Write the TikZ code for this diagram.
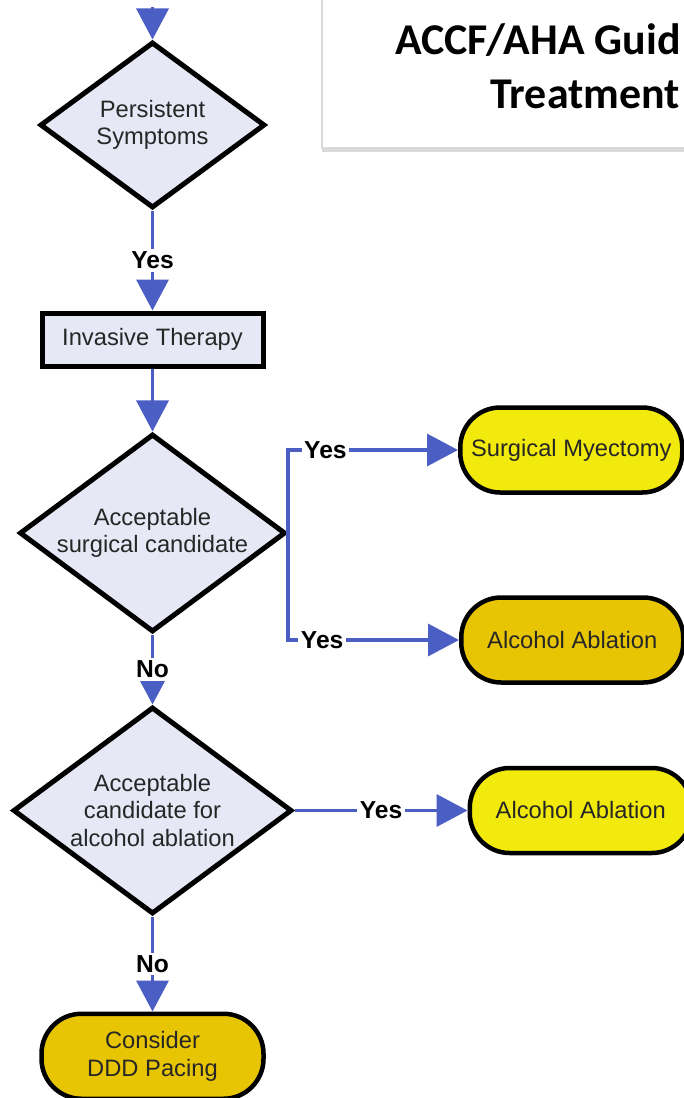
\documentclass[tikz,border=0pt]{standalone}
\usepackage{fontspec}
\setmainfont{Liberation Sans}
\newfontfamily\titlefont{Carlito}
\usetikzlibrary{arrows.meta,positioning,shapes.geometric,shadows}
\definecolor{cline}{HTML}{4B5EC3}
\definecolor{cdec}{HTML}{E6E8F5}
\definecolor{cyel}{HTML}{F2EA0C}
\definecolor{cgold}{HTML}{E8C503}
\tikzset{
  decision/.style={diamond,draw,fill=cdec,line width=1mm,inner sep=0pt,aspect=1.35,align=center,text=black!85,font=\fontsize{13.5}{15.5}\selectfont},
  process/.style={rectangle,draw,fill=cdec,line width=1mm,minimum width=44.2mm,minimum height=10.6mm,inner sep=0pt,text=black!85,font=\fontsize{13.5}{15.5}\selectfont},
  terminal/.style={rectangle,rounded corners=8mm,draw,line width=0.9mm,minimum width=44.4mm,minimum height=17mm,inner sep=0pt,align=center,text=black!85,font=\fontsize{13.5}{15.5}\selectfont},
  answer/.style={fill=white,inner sep=1.5pt,text=black,font=\fontsize{14}{16}\selectfont\bfseries},
  flow/.style={cline,line width=0.7mm,-{Triangle[length=6.2mm,width=6.4mm]}},
  titlepanel/.style={rectangle,draw=black!15,fill=white,line width=0.3mm,minimum width=80mm,minimum height=30.4mm,drop shadow={shadow xshift=0mm,shadow yshift=-0.8mm,opacity=0.3}},
  titletext/.style={inner sep=0pt,font=\titlefont\fontsize{25}{30}\selectfont\bfseries},
}
\begin{document}
\begin{tikzpicture}
  \clip (0,0) rectangle (136.8mm,-219.6mm);
  % title panel, cut by the page edge
  \node[titlepanel,anchor=north west] (panel) at (64.2mm,1mm) {};
  \node[titletext,anchor=base west] (title1) at (79mm,-10.8mm) {ACCF/AHA Guid};
  \node[titletext,anchor=base west] (title2) at (98mm,-21.6mm) {Treatment};
  % main column
  \node[decision,minimum width=45mm,minimum height=33.2mm] (persist) at (30.5mm,-25mm) {Persistent\\Symptoms};
  \node[process,below=20mm of persist] (invasive) {Invasive Therapy};
  \node[decision,minimum width=53.2mm,minimum height=39.6mm,below=12.6mm of invasive] (surgcand) {Acceptable\\surgical candidate};
  \node[decision,minimum width=55.8mm,minimum height=41.4mm,below=14mm of surgcand] (alccand) {Acceptable\\candidate for\\alcohol ablation};
  \node[terminal,fill=cgold,below=19mm of alccand] (pacing) {Consider\\DDD Pacing};
  % outcomes on the right
  \node[terminal,fill=cyel,right=34mm of surgcand.east,yshift=16.6mm] (myectomy) {Surgical Myectomy};
  \node[terminal,fill=cgold,right=34.2mm of surgcand.east,yshift=-21.4mm] (ablation1) {Alcohol Ablation};
  \node[terminal,fill=cyel,right=34.6mm of alccand.east] (ablation2) {Alcohol Ablation};
  \coordinate[above=6.6mm of persist.north] (entry);
  % connectors
  \draw[flow] (entry) -- (persist);
  \draw[flow] (persist) -- node[answer]{Yes} (invasive);
  \draw[flow] (invasive) -- (surgcand);
  \draw[flow] (surgcand.east) |- node[answer,pos=0.61]{Yes} (myectomy);
  \draw[flow] (surgcand.east) |- node[answer,pos=0.6]{Yes} (ablation1);
  \draw[flow] (surgcand) -- node[answer]{No} (alccand);
  \draw[flow] (alccand) -- node[answer]{Yes} (ablation2);
  \draw[flow] (alccand) -- node[answer]{No} (pacing);
\end{tikzpicture}
\end{document}
